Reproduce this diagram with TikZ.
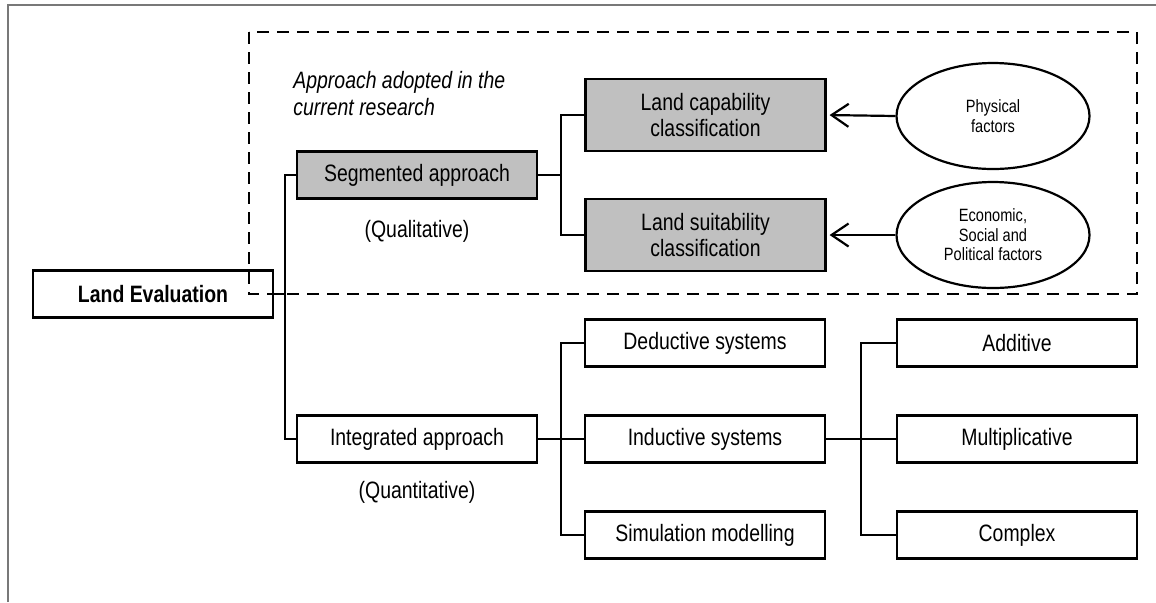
\documentclass[tikz,border=0pt]{standalone}
\usepackage{fontspec}
\setmainfont{Liberation Sans}[FakeStretch=0.82]
\usetikzlibrary{arrows.meta,shapes.geometric}
\definecolor{boxgray}{RGB}{192,192,192}
\definecolor{framegray}{RGB}{120,120,120}
\newcommand\mainfs{\fontsize{11.85}{13.35}\selectfont}
\newcommand\smallfs{\fontsize{8.9}{9.8}\selectfont}
\begin{document}
\begin{tikzpicture}[x=0.5pt,y=-0.5pt,
  box/.style={draw, line width=1.1pt, minimum width=120pt, minimum height=23.5pt,
    inner sep=0pt, font=\mainfs, align=center},
  graybox/.style={box, fill=boxgray, minimum height=36pt},
  ell/.style={draw, ellipse, line width=1.1pt, minimum width=96.5pt,
    minimum height=53pt, inner sep=0pt, font=\smallfs, align=center},
  conn/.style={line width=1.1pt},
  infl/.style={line width=1.1pt, -{Straight Barb[length=8.5pt, width=11.5pt, line width=1.1pt]}, shorten >=1.5pt},
  region/.style={line width=1.3pt, dash pattern=on 6pt off 4pt},
  note/.style={font=\mainfs, inner sep=0pt}]
\useasboundingbox (0,0) rectangle (1156,602);
% outer frame (cropped)
\draw[framegray, line width=0.75pt] (8,602) -- (8,5) -- (1156,5);
% dashed region
\draw[region] (249,32) rectangle (1137,294);
\node[note, anchor=north west, align=left, font=\mainfs\itshape] (adopt) at (293,71)
  {Approach adopted in the\\current research};
% nodes
\node[box, font=\mainfs\bfseries] (le) at (153,294) {Land Evaluation};
\node[box, fill=boxgray] (seg) at (417,175) {Segmented approach};
\node[note, anchor=base] (qual) at (417,237) {(Qualitative)};
\node[box] (int) at (417,439) {Integrated approach};
\node[note, anchor=base] (quant) at (417,498) {(Quantitative)};
\node[graybox] (cap) at (705.5,115) {Land capability\\classification};
\node[graybox] (suit) at (705.5,235) {Land suitability\\classification};
\node[ell] (phys) at (993,116) {Physical\\factors};
\node[ell] (econ) at (993,235) {Economic,\\Social and\\Political factors};
\node[box] (ded) at (705,343) {Deductive systems};
\node[box] (ind) at (705,439) {Inductive systems};
\node[box] (sim) at (705,535) {Simulation modelling};
\node[box] (add) at (1017,343) {Additive};
\node[box] (mul) at (1017,439) {Multiplicative};
\node[box] (com) at (1017,535) {Complex};
% junctions
\coordinate (t) at (285,294);
\coordinate (b1) at (561,175);
\coordinate (b2) at (561,439);
\coordinate (b3) at (861,439);
% connectors
\draw[conn] (le.east) -- (t);
\draw[conn] (seg.west) -| (t) |- (int.west);
\draw[conn] (seg.east) -- (b1);
\draw[conn] (cap.west) -| (b1) |- (suit.west);
\draw[conn] (int.east) -- (ind.west);
\draw[conn] (ded.west) -| (b2) |- (sim.west);
\draw[conn] (ind.east) -- (mul.west);
\draw[conn] (add.west) -| (b3) |- (com.west);
\draw[infl] (phys.west) -- (cap.east);
\draw[infl] (econ.west) -- (suit.east);
\end{tikzpicture}
\end{document}
